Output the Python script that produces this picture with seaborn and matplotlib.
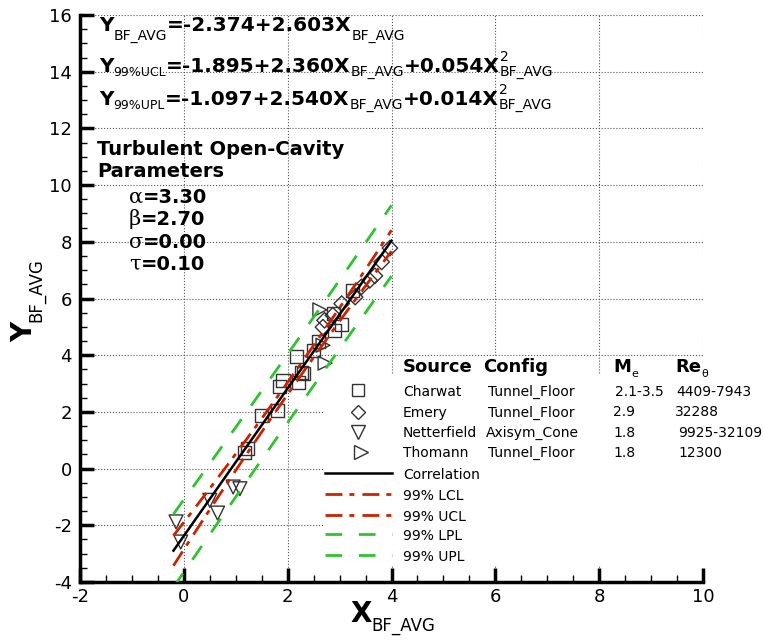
import numpy as np
import pandas as pd
import matplotlib
matplotlib.use("Agg")
import matplotlib.pyplot as plt
import seaborn as sns
from matplotlib.transforms import IdentityTransform
from matplotlib.lines import Line2D
from matplotlib.patches import Rectangle

# ---------------- data ----------------
charwat_x = [1.17, 1.22, 1.49, 1.81, 1.84, 1.91, 2.17, 2.20, 2.26, 2.30, 2.49, 2.59, 2.91, 3.04, 2.88, 3.25]
charwat_y = [0.58, 0.70, 1.88, 2.06, 2.88, 3.11, 3.97, 3.05, 3.38, 3.35, 4.17, 4.47, 4.88, 5.10, 5.47, 6.29]
emery_x = [2.68, 2.71, 2.87, 3.04, 3.30, 3.42, 3.58, 3.68, 3.81, 3.97]
emery_y = [4.99, 5.23, 5.41, 5.82, 6.05, 6.41, 6.64, 6.80, 7.29, 7.78]
netter_x = [-0.15, -0.06, 0.50, 0.65, 0.95, 1.08]
netter_y = [-1.88, -2.59, -1.12, -1.57, -0.65, -0.71]
thomann_x = [2.62, 2.68, 2.72]
thomann_y = [5.60, 4.35, 3.72]

corr_coef = [-2.374, 2.603, 0.0]
ucl_coef = [-1.895, 2.360, 0.054]
upl_coef = [-1.097, 2.540, 0.014]
x_range = [-0.2, 4.0]

sources = ["Charwat", "Emery", "Netterfield", "Thomann"]
configs = ["Tunnel_Floor", "Tunnel_Floor", "Axisym_Cone", "Tunnel_Floor"]
mach = ["2.1-3.5", "2.9", "1.8", "1.8"]
reyn = ["4409-7943", "32288", "9925-32109", "12300"]
line_labels = ["Correlation", "99% LCL", "99% UCL", "99% LPL", "99% UPL"]
params = [("\u03b1", "=3.30"), ("\u03b2", "=2.70"), ("\u03c3", "=0.00"), ("\u03c4", "=0.10")]

x_ticks = [-2, 0, 2, 4, 6, 8, 10]
y_ticks = [-4, -2, 0, 2, 4, 6, 8, 10, 12, 14, 16]

# ---------------- figure ----------------
W, H = 765, 644
fig = plt.figure(figsize=(W / 100, H / 100), dpi=100)
plt.rcParams['font.family'] = ['DejaVu Sans']
ax = fig.add_axes([80 / W, 1 - 582 / H, (703 - 80) / W, (582 - 15) / H])

RED = '#cc2200'
GREEN = '#2ec42e'
EDGE = '#333333'
marker_of = {"Charwat": "s", "Emery": "D", "Netterfield": "v", "Thomann": ">"}
msize = {"s": 88, "D": 62, "v": 100, ">": 100}

pts = pd.DataFrame({
    "x": charwat_x + emery_x + netter_x + thomann_x,
    "y": charwat_y + emery_y + netter_y + thomann_y,
    "Source": ["Charwat"] * len(charwat_x) + ["Emery"] * len(emery_x)
              + ["Netterfield"] * len(netter_x) + ["Thomann"] * len(thomann_x),
})
for src in sources:
    sub = pts[pts["Source"] == src]
    m = marker_of[src]
    sns.scatterplot(data=sub, x="x", y="y", marker=m, s=msize[m], facecolor='none',
                    edgecolor=EDGE, linewidth=1.0, ax=ax, zorder=2, legend=False)

xs = np.linspace(x_range[0], x_range[1], 200)
corr = corr_coef[0] + corr_coef[1] * xs + corr_coef[2] * xs ** 2
ucl = ucl_coef[0] + ucl_coef[1] * xs + ucl_coef[2] * xs ** 2
upl = upl_coef[0] + upl_coef[1] * xs + upl_coef[2] * xs ** 2
lcl = 2 * corr - ucl
lpl = 2 * corr - upl

red_dash = (0, (6.1, 2.5, 1.8, 2.9))
green_dash = (0, (6, 6))
ax.plot(xs, corr, color='black', lw=1.8, zorder=4)
ax.plot(xs, lcl, color=RED, lw=2.0, linestyle=red_dash, zorder=3)
ax.plot(xs, ucl, color=RED, lw=2.0, linestyle=red_dash, zorder=3)
ax.plot(xs, lpl, color=GREEN, lw=2.0, linestyle=green_dash, zorder=3)
ax.plot(xs, upl, color=GREEN, lw=2.0, linestyle=green_dash, zorder=3)

ax.set_xlim(-2, 10)
ax.set_ylim(-4, 16)
ax.set_xticks(x_ticks)
ax.set_yticks(y_ticks)
ax.set_xticklabels([str(v) for v in x_ticks])
ax.set_yticklabels([str(v) for v in y_ticks])
ax.set_xticks(np.arange(-2, 10.01, 0.5), minor=True)
ax.set_yticks(np.arange(-4, 16.01, 0.5), minor=True)
ax.tick_params(which='major', direction='in', length=10, width=2.5, labelsize=13,
               top=False, right=False, color='black')
ax.tick_params(axis='y', which='major', pad=6)
ax.tick_params(axis='x', which='major', pad=4)
ax.tick_params(which='minor', direction='in', length=5, width=1, top=False, right=False)
for sp in ['top', 'right']:
    ax.spines[sp].set_visible(False)
for sp in ['left', 'bottom']:
    ax.spines[sp].set_linewidth(2.5)
ax.grid(True, which='major', linestyle=':', color='#555555', lw=0.8)
ax.set_axisbelow(True)
ax.set_xlabel('')
ax.set_ylabel('')
ax.patch.set_alpha(0)

# white background of the legend table (hides grid lines there)
fig.add_artist(Rectangle((323, H - 566), 706 - 323, 566 - 375, facecolor='white',
                         edgecolor='none', transform=IdentityTransform(), zorder=1))
fig.add_artist(Rectangle((481, H - 376), 70, 20, facecolor='white',
                         edgecolor='none', transform=IdentityTransform(), zorder=1))

# ---------------- rich text helper (pixel coords, y from top) ----------------
renderer = fig.canvas.get_renderer()


def seg(s, size, bold=False, dy=0, adv=True, fam='DejaVu Sans'):
    return (s, size, bold, dy, adv, fam)


def rich(x, y_img, segs, rot=0):
    base = H - y_img
    pos = x if rot == 0 else base
    for s, size, bold, dy, adv, fam in segs:
        kw = dict(fontsize=size, fontweight='bold' if bold else 'normal', family=fam,
                  transform=IdentityTransform(), ha='left', va='baseline', zorder=3)
        if rot == 0:
            t = fig.text(pos, base + dy, s, **kw)
        else:
            t = fig.text(x - dy, pos, s, rotation=90, rotation_mode='anchor', **kw)
        if adv:
            bb = t.get_window_extent(renderer)
            pos += bb.width if rot == 0 else bb.height


MAIN = 14.5
SUB = 10
rich(99, 31, [seg("Y", MAIN, True), seg("BF_AVG", SUB, dy=-9),
              seg("=-2.374+2.603X", MAIN, True), seg("BF_AVG", SUB, dy=-9)])
rich(99, 72, [seg("Y", MAIN, True), seg("99%UCL", 9, dy=-4),
              seg("=-1.895+2.360X", MAIN, True), seg("BF_AVG", SUB, dy=-4),
              seg("+0.054X", MAIN, True), seg("2", SUB, dy=11, adv=False), seg("BF_AVG", SUB, dy=-4)])
rich(99, 105, [seg("Y", MAIN, True), seg("99%UPL", 9, dy=-4),
               seg("=-1.097+2.540X", MAIN, True), seg("BF_AVG", SUB, dy=-4),
               seg("+0.014X", MAIN, True), seg("2", SUB, dy=11, adv=False), seg("BF_AVG", SUB, dy=-4)])

rich(97, 155, [seg("Turbulent Open-Cavity", 14, True)])
rich(97, 177, [seg("Parameters", 14, True)])
for i, (g, v) in enumerate(params):
    rich(129, 203 + i * 22.3, [seg(g, 15, False, fam='DejaVu Serif'), seg(v, 14, True)])

# legend table
rich(403, 372, [seg("Source", 13, True)])
rich(483, 372, [seg("Config", 13, True)])
rich(613, 372, [seg("M", 13, True), seg("e", 8, dy=-5)])
rich(675, 372, [seg("Re", 13, True), seg("\u03b8", 8, dy=-5)])
row_y = [396, 416.5, 437, 457]
mach_x = [615, 613, 613, 613]
re_x = [676, 675, 678, 678]
for i in range(4):
    rich(403, row_y[i], [seg(sources[i], 10)])
    rich(488 if i != 2 else 486, row_y[i], [seg(configs[i], 10)])
    rich(mach_x[i], row_y[i], [seg(mach[i], 10)])
    rich(re_x[i], row_y[i], [seg(reyn[i], 10)])

mk_pos = [(358, 390), (358, 412), (358, 432), (361, 452)]
for src, (mx, my) in zip(sources, mk_pos):
    m = marker_of[src]
    ms = np.sqrt(msize[m]) * (0.9 if m == 's' else 0.95)
    fig.add_artist(Line2D([mx], [H - my], marker=m, markersize=ms, markerfacecolor='none',
                          markeredgecolor=EDGE, markeredgewidth=1.0, linestyle='none',
                          transform=IdentityTransform(), zorder=2))

line_y = [473, 494, 515, 534, 555]
styles = [dict(color='black', lw=1.8, linestyle='-'),
          dict(color=RED, lw=2.0, linestyle=red_dash),
          dict(color=RED, lw=2.0, linestyle=red_dash),
          dict(color=GREEN, lw=2.0, linestyle=green_dash),
          dict(color=GREEN, lw=2.0, linestyle=green_dash)]
for lab, ly, st in zip(line_labels, line_y, styles):
    fig.add_artist(Line2D([325, 392], [H - ly, H - ly], transform=IdentityTransform(),
                          zorder=2, **st))
    rich(403, ly + 6, [seg(lab, 10)])

# axis labels
rich(350, 622, [seg("X", 20, True), seg("BF_AVG", 12, dy=-9)])
rich(32, 342, [seg("Y", 20, True), seg("BF_AVG", 12, dy=-9)], rot=90)

fig.savefig("out.png", dpi=100)
